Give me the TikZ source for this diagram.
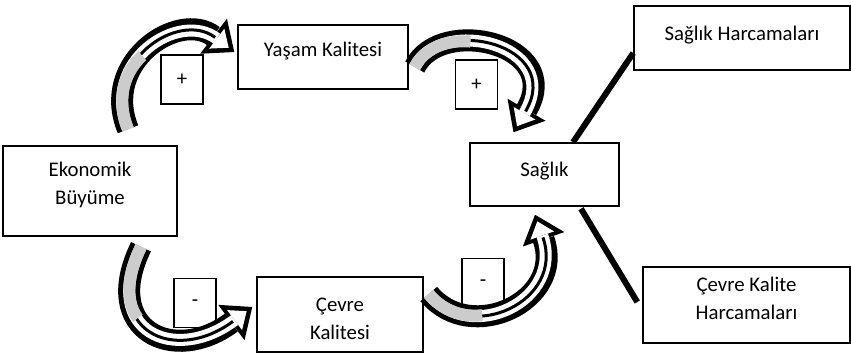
\documentclass[tikz,border=0pt]{standalone}
\usepackage{fontspec}
\setmainfont{Carlito}
\usetikzlibrary{arrows.meta}
\definecolor{tailgray}{gray}{0.8}

\begin{document}
\begin{tikzpicture} [x=1pt, y=-1pt,
    textbox/.style={draw, line width=1.5pt, inner sep=0pt, align=center, font=\fontsize{20.8pt}{28pt}\selectfont},
    signbox/.style={draw, line width=1.5pt, inner sep=0pt, minimum width=42pt, minimum height=49pt, font=\fontsize{20.8pt}{25pt}\selectfont},
    link/.style={line width=6pt},
    blockarrow/.style={draw=black, line width=22pt, -{Triangle[length=26pt, width=44pt, line width=0pt]},
        postaction={draw=white, line width=12pt, shorten >=7pt, -{Triangle[length=15pt, width=25pt, line width=0pt]}},
        postaction={draw=black, line width=3pt, arrows=-, shorten >=24pt, dash pattern=on 0pt off #1 on 10000pt},
        postaction={draw=tailgray, line width=12pt, arrows=-, dash pattern=on #1 off 10000pt}}]
      \useasboundingbox (0,0) rectangle (851,353);

      \node[textbox, minimum width=174pt, minimum height=90pt] (eko) at (90,191) {Ekonomik\\Büyüme\rule[-14.5pt]{0pt}{0pt}};
      \node[textbox, minimum width=170pt, minimum height=64pt, text height=17pt, text depth=17pt] (yasam) at (323,57) {Yaşam Kalitesi};
      \node[textbox, minimum width=149pt, minimum height=63pt, text height=17pt, text depth=14pt] (saglik) at (544.5,174.5) {Sağlık};
      \node[textbox, minimum width=216pt, minimum height=64pt, text height=18pt, text depth=12pt] (sharc) at (742,38) {Sağlık Harcamaları};
      \node[textbox, minimum width=207pt, minimum height=76pt] (ckharc) at (746.5,305) {Çevre Kalite\\Harcamaları\rule[-13pt]{0pt}{0pt}};
      \node[textbox, minimum width=166pt, minimum height=75pt] (cevre) at (340,314.5) {\rule{0pt}{22pt}Çevre\\Kalitesi};

      \node[signbox] (plus1) at (182,79.5) {+};
      \node[signbox] (plus2) at (476.5,84.5) {+};
      \node[signbox] (minus1) at (195,303) {-};
      \node[signbox] (minus2) at (483,283) {-};

      \draw[blockarrow=80pt] ([shift={(38,-16)}]eko.north) .. controls +(-28,-68) and +(-55,-42) .. ([shift={(-3,-5)}]yasam.west);
      \draw[blockarrow=65pt] ([shift={(6,10)}]yasam.east) .. controls +(26,-52) and +(51,-88) .. ([shift={(-31,-10)}]saglik.north);
      \draw[blockarrow=75pt] ([shift={(51,10)}]eko.south) .. controls +(-41,84) and +(-78,58) .. ([shift={(-4,-7.5)}]cevre.west);
      \draw[blockarrow=60pt] ([shift={(5,-20.5)}]cevre.east) .. controls +(42,51) and +(30,86) .. ([shift={(-9.5,8)}]saglik.south);

      \draw[link] ([shift={(28.5,0)}]saglik.north) -- ([shift={(0,15)}]sharc.west);
      \draw[link] ([shift={(36.5,2)}]saglik.south) -- ([shift={(-5,-3)}]ckharc.west);
\end{tikzpicture}
\end{document}
